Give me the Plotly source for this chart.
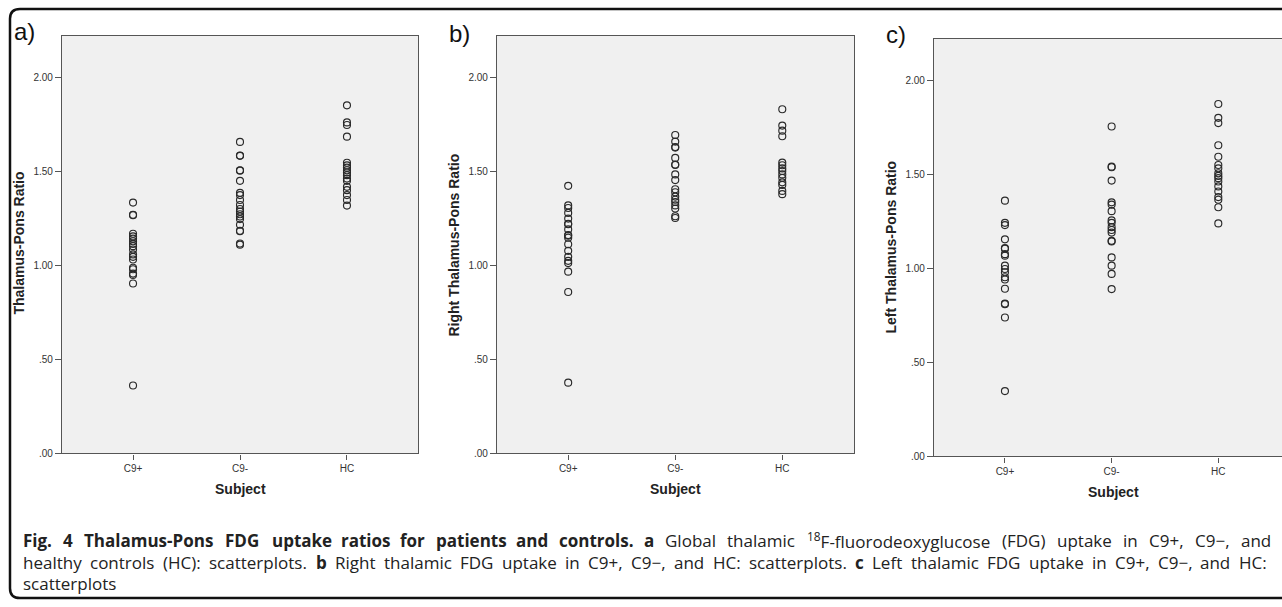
import re
import plotly.graph_objects as go

W, H = 1282, 607

categories = ["C9+", "C9-", "HC"]

# Panel a: global thalamus-pons ratio
global_c9pos = [1.336, 1.271, 1.269, 1.170, 1.156, 1.144, 1.130, 1.116, 1.104, 1.086,
                1.060, 1.047, 1.033, 0.989, 0.981, 0.958, 0.951, 0.905, 0.362]
global_c9neg = [1.659, 1.587, 1.585, 1.508, 1.506, 1.452, 1.388, 1.376, 1.350, 1.323,
                1.302, 1.288, 1.274, 1.262, 1.248, 1.218, 1.186, 1.184, 1.118, 1.112]
global_hc = [1.854, 1.763, 1.749, 1.687, 1.548, 1.534, 1.522, 1.508, 1.496, 1.482,
             1.464, 1.452, 1.420, 1.402, 1.376, 1.350, 1.320]

# Panel b: right thalamus-pons ratio
right_c9pos = [1.425, 1.321, 1.307, 1.281, 1.251, 1.223, 1.221, 1.193, 1.163, 1.160,
               1.149, 1.114, 1.079, 1.047, 1.026, 1.014, 0.968, 0.860, 0.377]
right_c9neg = [1.696, 1.661, 1.632, 1.629, 1.574, 1.539, 1.536, 1.486, 1.456, 1.407,
               1.391, 1.368, 1.351, 1.339, 1.321, 1.304, 1.263, 1.254]
right_hc = [1.833, 1.746, 1.719, 1.689, 1.549, 1.535, 1.518, 1.504, 1.486, 1.468,
            1.444, 1.430, 1.398, 1.381]

# Panel c: left thalamus-pons ratio
left_c9pos = [1.362, 1.244, 1.232, 1.156, 1.109, 1.106, 1.077, 1.069, 1.016, 0.998,
              0.981, 0.954, 0.942, 0.893, 0.814, 0.811, 0.740, 0.348]
left_c9neg = [1.757, 1.543, 1.540, 1.469, 1.353, 1.341, 1.306, 1.257, 1.244, 1.221,
              1.206, 1.192, 1.148, 1.145, 1.060, 1.016, 0.972, 0.891]
left_hc = [1.877, 1.803, 1.775, 1.657, 1.596, 1.552, 1.534, 1.508, 1.494, 1.482,
           1.464, 1.438, 1.411, 1.381, 1.367, 1.327, 1.241]

ytick_vals = [0.0, 0.5, 1.0, 1.5, 2.0]
ytick_text = [".00", ".50", "1.00", "1.50", "2.00"]
y_titles = ["Thalamus-Pons Ratio", "Right Thalamus-Pons Ratio", "Left Thalamus-Pons Ratio"]
panel_labels = ["a)", "b)", "c)"]
x_title = "Subject"

# caption text, one string per printed line (justified like the reference)
caption_lines = [
    "<b>Fig.</b> <b>4</b> <b>Thalamus-Pons</b> <b>FDG</b> <b>uptake</b> <b>ratios</b> <b>for</b> "
    "<b>patients</b> <b>and</b> <b>controls.</b> <b>a</b> Global thalamic "
    "<sup>18</sup>F-fluorodeoxyglucose (FDG) uptake in C9+, C9\u2212, and",
    "healthy controls (HC): scatterplots. <b>b</b> Right thalamic FDG uptake in C9+, C9\u2212, "
    "and HC: scatterplots. <b>c</b> Left thalamic FDG uptake in C9+, C9\u2212, and HC:",
    "scatterplots",
]

panels = [
    [global_c9pos, global_c9neg, global_hc],
    [right_c9pos, right_c9neg, right_hc],
    [left_c9pos, left_c9neg, left_hc],
]

# layout geometry in pixels: (left, right, top, bottom), x range, title positions
boxes = [(62, 418, 36, 458), (497, 854, 36, 458), (934, 1282, 39, 461)]
xranges = [[-0.664, 2.664], [-0.665, 2.67], [-0.665, 2.597]]
ytitle_pos = [(19, 246), (454, 248), (891, 250)]
xtitle_pos = [(240, 494), (676, 494), (1113, 497)]
label_pos = [(12, 32), (447, 34), (884, 35)]
caption_y = [546, 568, 589]
caption_span = [(22, 1270), (22, 1266), (22, None)]
CAP_SIZE = 17

# approximate Open Sans advance widths (em) used to justify the caption words
_cw = {
    'a': .556, 'b': .613, 'c': .476, 'd': .613, 'e': .561, 'f': .339, 'g': .548, 'h': .614,
    'i': .253, 'j': .253, 'k': .525, 'l': .253, 'm': .93, 'n': .614, 'o': .604, 'p': .613,
    'q': .613, 'r': .408, 's': .477, 't': .353, 'u': .614, 'v': .5, 'w': .778, 'x': .524,
    'y': .502, 'z': .477, 'C': .631, 'D': .728, 'F': .502, 'G': .72, 'H': .734, 'L': .519,
    'P': .602, 'R': .613, 'T': .549, '.': .266, ',': .24, '(': .296, ')': .296, ':': .266,
    '-': .322, '+': .572, '\u2212': .572,
}


def char_w(c):
    if c.isdigit():
        return .572
    return _cw.get(c, .56)


def word_width(word, size):
    bold = "<b>" in word
    plain = re.sub(r"</?b>", "", word)
    w = 0.0
    m = re.match(r"<sup>(.*?)</sup>(.*)", plain)
    if m:
        w += sum(char_w(c) for c in m.group(1)) * 0.75
        plain = m.group(2)
    w += sum(char_w(c) for c in plain)
    if bold:
        w *= 1.06
    return w * size


def px(x):
    return x / W


def py(y):
    return 1 - y / H


fig = go.Figure()
annotations = []
shapes = []
font_main = "Liberation Sans, Arial, sans-serif"

for i, (groups, box) in enumerate(zip(panels, boxes)):
    n = "" if i == 0 else str(i + 1)
    xs, ys = [], []
    for cat, vals in zip(categories, groups):
        xs += [cat] * len(vals)
        ys += vals
    fig.add_trace(go.Scatter(
        x=xs, y=ys, mode="markers", xaxis="x" + n, yaxis="y" + n,
        marker=dict(symbol="circle-open", size=7, color="#2a2a2a", line=dict(width=1.15)),
        showlegend=False, hoverinfo="x+y",
    ))
    l, r, t, b = box
    fig.layout["xaxis" + n] = dict(
        domain=[px(l), px(r)], anchor="y" + n, type="category",
        categoryorder="array", categoryarray=categories,
        range=xranges[i], showgrid=False, zeroline=False,
        showline=True, linecolor="#555555", linewidth=1.2, mirror=True,
        ticks="outside", ticklen=5, tickcolor="#555555",
        tickfont=dict(family=font_main, size=10, color="#333333"),
    )
    fig.layout["yaxis" + n] = dict(
        domain=[py(b), py(t)], anchor="x" + n, range=[0, 2.225],
        tickvals=ytick_vals, ticktext=ytick_text, showgrid=False, zeroline=False,
        showline=True, linecolor="#555555", linewidth=1.2, mirror=(i < 2),
        ticks="outside", ticklen=6, tickcolor="#555555",
        tickfont=dict(family=font_main, size=10, color="#333333"),
    )
    tx, ty = ytitle_pos[i]
    annotations.append(dict(
        text="<b>%s</b>" % y_titles[i], x=px(tx), y=py(ty), xref="paper", yref="paper",
        textangle=-90, showarrow=False, xanchor="center", yanchor="middle",
        font=dict(family=font_main, size=14, color="#222222"),
    ))
    sx, sy = xtitle_pos[i]
    annotations.append(dict(
        text="<b>%s</b>" % x_title, x=px(sx), y=py(sy), xref="paper", yref="paper",
        showarrow=False, xanchor="center", yanchor="middle",
        font=dict(family=font_main, size=14, color="#222222"),
    ))
    lx, ly = label_pos[i]
    annotations.append(dict(
        text=panel_labels[i], x=px(lx), y=py(ly), xref="paper", yref="paper",
        showarrow=False, xanchor="left", yanchor="middle",
        font=dict(family=font_main, size=24, color="#111111"),
    ))
    shapes.append(dict(
        type="rect", xref="paper", yref="paper", layer="below",
        x0=px(l), x1=px(min(r, W)), y0=py(b), y1=py(t),
        fillcolor="#f0f0f0", line=dict(width=0),
    ))

# caption: justified word by word
cap_font = dict(family="Open Sans, sans-serif", size=CAP_SIZE, color="#222222")
for line, cy, (x0, x1) in zip(caption_lines, caption_y, caption_span):
    words = line.split(" ")
    widths = [word_width(w, CAP_SIZE) for w in words]
    if x1 is None or len(words) == 1:
        gap = 0.26 * CAP_SIZE
    else:
        gap = (x1 - x0 - sum(widths)) / (len(words) - 1)
    x = x0
    for w, ww in zip(words, widths):
        annotations.append(dict(
            text=w, x=px(x), y=py(cy), xref="paper", yref="paper",
            showarrow=False, xanchor="left", yanchor="middle", font=cap_font,
            borderpad=0,
        ))
        x += ww + gap

# outer rounded frame (top and left edges)
frame = "M %f,%f L %f,%f Q %f,%f %f,%f L %f,%f Q %f,%f %f,%f L %f,%f" % (
    px(1290), py(9), px(20), py(9), px(10), py(9), px(10), py(19),
    px(10), py(594), px(10), py(604), px(20), py(604), px(1290), py(604),
)
shapes.append(dict(type="path", path=frame, xref="paper", yref="paper",
                   line=dict(color="#111111", width=2.5)))

fig.update_layout(
    width=W, height=H, margin=dict(l=0, r=0, t=0, b=0),
    paper_bgcolor="white", plot_bgcolor="rgba(0,0,0,0)",
    annotations=annotations, shapes=shapes,
    font=dict(family=font_main),
)

fig.write_html(
    "out.html",
    config={"displayModeBar": False},
    post_script="document.body.style.margin='0';document.body.style.overflow='hidden';",
)
